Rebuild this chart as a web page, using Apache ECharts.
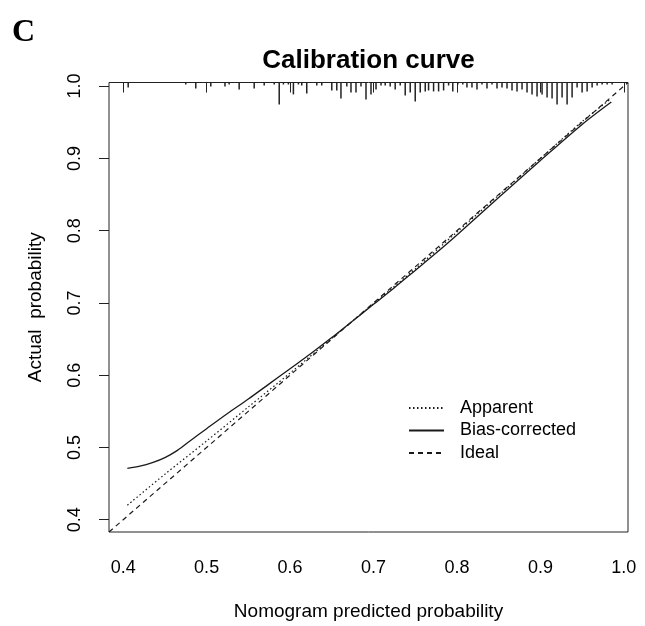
<!DOCTYPE html>
<html>
<head>
<meta charset="utf-8">
<script src="https://cdn.jsdelivr.net/npm/echarts@6/dist/echarts.min.js"></script>
<style>
  html, body { margin: 0; padding: 0; background: #fff; }
  #chart { width: 645px; height: 626px; }
</style>
</head>
<body>
<div id="chart"></div>
<script>
// tick labels
const tickValues = [0.4, 0.5, 0.6, 0.7, 0.8, 0.9, 1.0];

// apparent calibration (dotted)
const apparentX = [0.405, 0.45, 0.5, 0.55, 0.6, 0.65, 0.7, 0.75, 0.8, 0.85, 0.9, 0.95, 0.985];
const apparentY = [0.420, 0.463, 0.509, 0.556, 0.603, 0.651, 0.699, 0.747, 0.798, 0.849, 0.900, 0.951, 0.983];

// bias-corrected calibration (solid)
const biasX = [0.405, 0.42, 0.435, 0.45, 0.465, 0.48, 0.5, 0.525, 0.55, 0.575, 0.6, 0.625, 0.65,
  0.675, 0.7, 0.725, 0.75, 0.775, 0.8, 0.85, 0.9, 0.95, 0.985];
const biasY = [0.471, 0.474, 0.479, 0.486, 0.496, 0.509, 0.526, 0.547, 0.567, 0.588, 0.609, 0.630, 0.652,
  0.675, 0.698, 0.721, 0.745, 0.769, 0.794, 0.846, 0.897, 0.947, 0.978];

// ideal line
const idealX = [0.383, 1.005];
const idealY = [0.383, 1.005];

// distribution of predicted probabilities (rug at top)
const rugX = [0.406, 0.475, 0.487, 0.505, 0.522, 0.527, 0.539, 0.557, 0.569, 0.581,
  0.587, 0.592, 0.598, 0.604, 0.610, 0.614, 0.620, 0.632, 0.638, 0.650,
  0.656, 0.661, 0.668, 0.673, 0.679, 0.685, 0.691, 0.697, 0.703, 0.709,
  0.714, 0.720, 0.726, 0.732, 0.738, 0.744, 0.750, 0.756, 0.762, 0.766,
  0.772, 0.778, 0.784, 0.790, 0.795, 0.801, 0.807, 0.812, 0.818, 0.824,
  0.830, 0.836, 0.842, 0.848, 0.854, 0.860, 0.866, 0.872, 0.878, 0.884,
  0.890, 0.896, 0.902, 0.908, 0.914, 0.920, 0.926, 0.932, 0.938, 0.944,
  0.950, 0.956, 0.962, 0.968, 0.974, 0.980, 0.986];
const rugFreq = [5, 2, 6, 4, 4, 2, 7, 6, 3, 2,
  22, 2, 2, 12, 2, 3, 11, 3, 3, 8,
  8, 16, 4, 10, 10, 4, 17, 12, 7, 3,
  3, 4, 7, 3, 13, 10, 19, 10, 9, 8,
  9, 9, 8, 3, 9, 2, 2, 5, 5, 7,
  2, 6, 2, 6, 5, 6, 8, 9, 7, 10,
  12, 14, 12, 15, 16, 22, 15, 22, 15, 5,
  10, 9, 5, 3, 2, 2, 2];

const pairs = (xs, ys) => xs.map((x, i) => [x, ys[i]]);
const font = "Liberation Sans";
const ink = "#1a1a1a";

const chart = echarts.init(document.getElementById("chart"));
chart.setOption({
  animation: false,
  backgroundColor: "#fff",
  title: [
    {
      text: "Calibration curve",
      left: 368.5,
      top: 48,
      padding: 0,
      textAlign: "center",
      textStyle: { fontFamily: font, fontWeight: "bold", fontSize: 26, color: "#000" },
    },
    {
      text: "C",
      left: 12,
      top: 17,
      padding: 0,
      textAlign: "left",
      textStyle: { fontFamily: "Liberation Serif", fontWeight: "bold", fontSize: 32, color: "#000" },
    },
  ],
  legend: {
    data: ["Apparent", "Bias-corrected", "Ideal"],
    orient: "vertical",
    left: 408,
    top: 399,
    padding: 0,
    itemWidth: 35,
    itemHeight: 14,
    itemGap: 4.5,
    itemStyle: { opacity: 0 },
    textStyle: { fontFamily: font, fontSize: 18, color: "#000", lineHeight: 18, padding: [0, 0, 0, 11] },
  },
  grid: {
    left: 109,
    right: 17,
    top: 82.5,
    bottom: 91,
    show: true,
    borderColor: "#222",
    borderWidth: 1,
    backgroundColor: "transparent",
  },
  xAxis: {
    type: "value",
    min: 0.383,
    max: 1.005,
    name: "Nomogram predicted probability",
    nameLocation: "middle",
    nameGap: 70,
    nameTextStyle: { fontFamily: font, fontSize: 19, color: "#000" },
    axisLine: { show: false },
    splitLine: { show: false },
    axisTick: { show: true, length: 10, customValues: tickValues, lineStyle: { color: "#222" } },
    axisLabel: {
      customValues: tickValues,
      margin: 27,
      fontFamily: font,
      fontSize: 18,
      color: "#000",
      formatter: (v) => v.toFixed(1),
    },
  },
  yAxis: [
    {
      type: "value",
      min: 0.383,
      max: 1.005,
      name: "Actual  probability",
      nameLocation: "middle",
      nameGap: 64,
      nameTextStyle: { fontFamily: font, fontSize: 19, color: "#000" },
      axisLine: { show: false },
      splitLine: { show: false },
      axisTick: { show: true, length: 10, customValues: tickValues, lineStyle: { color: "#222" } },
      axisLabel: {
        customValues: tickValues,
        rotate: 90,
        margin: 25,
        fontFamily: font,
        fontSize: 18,
        color: "#000",
        formatter: (v) => v.toFixed(1),
      },
    },
    {
      type: "value",
      min: 0,
      max: 452,
      inverse: true,
      show: false,
    },
  ],
  series: [
    {
      name: "Ideal",
      type: "line",
      data: pairs(idealX, idealY),
      symbol: "none",
      lineStyle: { color: ink, width: 1.2, type: [5, 4] },
      itemStyle: { color: ink },
      z: 3,
    },
    {
      name: "Apparent",
      type: "line",
      data: pairs(apparentX, apparentY),
      symbol: "none",
      smooth: 0.3,
      lineStyle: { color: ink, width: 1.2, type: [1.5, 2.5] },
      itemStyle: { color: ink },
      z: 3,
    },
    {
      name: "Bias-corrected",
      type: "line",
      data: pairs(biasX, biasY),
      symbol: "none",
      smooth: 0.3,
      lineStyle: { color: ink, width: 1.3, type: "solid" },
      itemStyle: { color: ink },
      z: 3,
    },
    {
      name: "rug",
      type: "bar",
      yAxisIndex: 1,
      data: pairs(rugX, rugFreq),
      barWidth: 1.5,
      itemStyle: { color: "#222" },
      silent: true,
      z: 2,
    },
  ],
});
</script>
</body>
</html>
